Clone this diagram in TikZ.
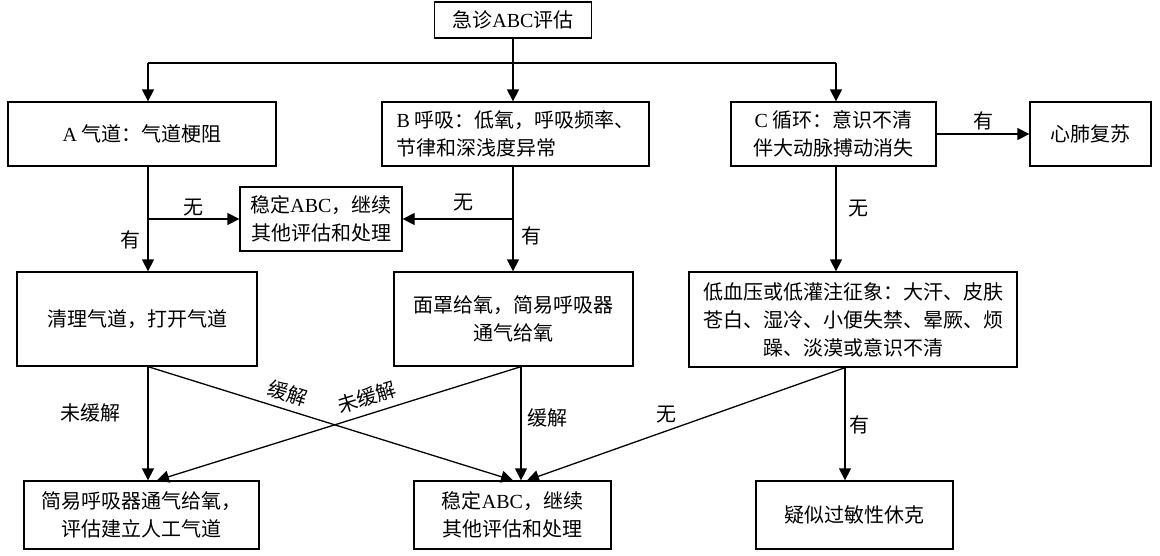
\documentclass[tikz,border=0pt]{standalone}
\usepackage{fontspec}
\setmainfont{Noto Sans CJK SC}
\newfontfamily\lat{Liberation Serif}
\usetikzlibrary{arrows.meta}
\begin{document}
\begin{tikzpicture}[x=1pt,y=-1pt,
  box/.style={draw, line width=1.3pt, inner sep=0pt, font=\fontsize{20}{28}\selectfont, align=center},
  ln/.style={line width=1.3pt},
  arr/.style={line width=1.3pt, -{Triangle[length=12pt,width=12pt]}},
  lab/.style={font=\fontsize{20}{24}\selectfont, inner sep=1pt}]
\useasboundingbox (0,0) rectangle (1160,555);
% boxes
\node[box, minimum width=157pt, minimum height=36pt] (top) at (513,20) {急诊{\lat ABC}评估};
\node[box, minimum width=268pt, minimum height=64pt] (A) at (142,134) {{\lat A} 气道：气道梗阻};
\node[box, minimum width=267pt, minimum height=64pt, align=left] (B) at (515.5,134) {{\lat B} 呼吸：低氧，呼吸频率、\\节律和深浅度异常};
\node[box, minimum width=205pt, minimum height=64pt] (C) at (833.5,134) {{\lat C} 循环：意识不清\\伴大动脉搏动消失};
\node[box, minimum width=121pt, minimum height=64pt] (cpr) at (1090.5,134) {心肺复苏};
\node[box, minimum width=162pt, minimum height=64pt] (mid) at (321,219) {稳定{\lat ABC}，继续\\其他评估和处理};
\node[box, minimum width=240pt, minimum height=94pt] (ql) at (137,319) {清理气道，打开气道};
\node[box, minimum width=239pt, minimum height=94pt] (mz) at (513.5,319) {面罩给氧，简易呼吸器\\通气给氧};
\node[box, minimum width=328pt, minimum height=95pt] (big) at (853,319.5) {低血压或低灌注征象：大汗、皮肤\\苍白、湿冷、小便失禁、晕厥、烦\\躁、淡漠或意识不清};
\node[box, minimum width=235pt, minimum height=68pt] (bl) at (141.5,515) {简易呼吸器通气给氧，\\评估建立人工气道};
\node[box, minimum width=197pt, minimum height=68pt] (bm) at (512.5,515) {稳定{\lat ABC}，继续\\其他评估和处理};
\node[box, minimum width=197pt, minimum height=68pt] (br) at (854.5,515) {疑似过敏性休克};
% helper coordinates
\coordinate (h) at (0,63);
\coordinate (xA) at (148,0);
\coordinate (xC) at (836,0);
\coordinate (xM) at (521,0);
\coordinate (xG) at (845,0);
\coordinate (xL) at (157,0);
\coordinate (xR) at (527,0);
% top distribution
\draw[ln] (xA |- h) -- (xC |- h);
\draw[arr] (top.south) -- (top.south |- B.north);
\draw[arr] (xA |- h) -- (xA |- A.north);
\draw[arr] (xC |- h) -- (xC |- C.north);
% A
\draw[arr] (xA |- A.south) -- (xA |- ql.north) node[lab, pos=0.70, left=6pt] {有};
\draw[arr] (xA |- mid.west) -- (mid.west) node[lab, midway, above=1pt] {无};
% B
\draw[arr] (top.south |- B.south) -- (top.south |- mz.north) node[lab, pos=0.66, right=7pt] {有};
\draw[arr] (top.south |- mid.east) -- (mid.east) node[lab, pos=0.45, above=6pt] {无};
% C
\draw[arr] (xC |- C.south) -- (xC |- big.north) node[lab, pos=0.40, right=11pt] {无};
\draw[arr] (C.east) -- (cpr.west) node[lab, midway, above=2pt] {有};
% lower part
\draw[arr] (xA |- ql.south) -- (xA |- bl.north) node[lab, pos=0.41, left=26pt] {未缓解};
\draw[arr] (xA |- ql.south) -- (top.south |- bm.north) node[lab, pos=0.37, sloped, above=5pt] {缓解};
\draw[arr] (xM |- mz.south) -- (xL |- bl.north) node[lab, pos=0.41, sloped, above=6pt] {未缓解};
\draw[arr] (xM |- mz.south) -- (xM |- bm.north) node[lab, pos=0.45, right=5pt] {缓解};
\draw[arr] (xG |- big.south) -- (xR |- bm.north) node[lab, pos=0.56, above=6pt] {无};
\draw[arr] (xG |- big.south) -- (xG |- br.north) node[lab, pos=0.51, right=3pt] {有};
\end{tikzpicture}
\end{document}
